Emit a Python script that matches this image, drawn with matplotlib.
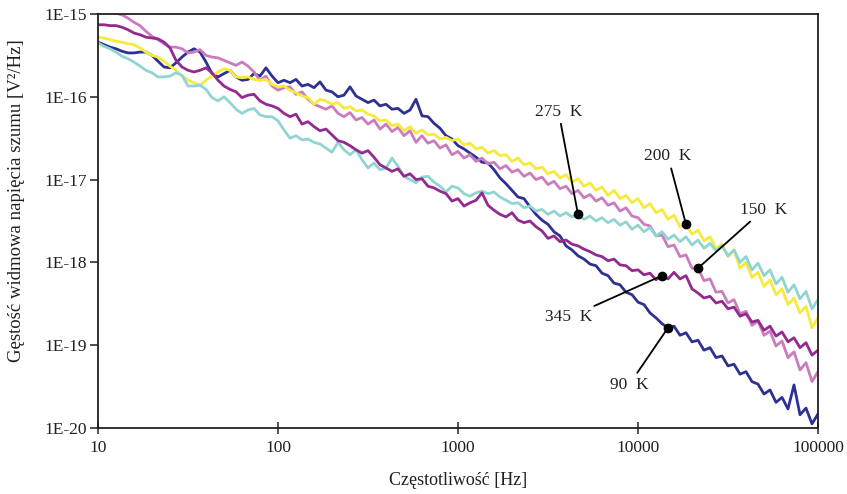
import matplotlib

matplotlib.use("Agg")
import matplotlib.pyplot as plt
import numpy as np

# Spectra were traced on a 1/30-decade grid from 10 Hz to 100 kHz.
freq = np.logspace(1, 5, 121)

# log10 of the noise voltage spectral density [V^2/Hz].
psd_90k = [
    -15.34, -15.37, -15.40, -15.42, -15.45, -15.47, -15.47, -15.46, -15.46, -15.50,
    -15.57, -15.64, -15.65, -15.59, -15.52, -15.46, -15.42, -15.46, -15.58, -15.72,
    -15.76, -15.72, -15.68, -15.76, -15.80, -15.79, -15.72, -15.75, -15.65, -15.75,
    -15.83, -15.80, -15.83, -15.79, -15.87, -15.85, -15.89, -15.82, -15.92, -15.94,
    -16.00, -15.98, -15.88, -15.99, -16.03, -16.07, -16.04, -16.11, -16.09, -16.15,
    -16.14, -16.20, -16.16, -16.03, -16.23, -16.24, -16.32, -16.38, -16.47, -16.51,
    -16.59, -16.63, -16.68, -16.73, -16.79, -16.80, -16.88, -16.98, -17.05, -17.13,
    -17.21, -17.23, -17.33, -17.42, -17.49, -17.54, -17.63, -17.68, -17.80, -17.85,
    -17.92, -17.96, -18.02, -18.04, -18.13, -18.16, -18.25, -18.27, -18.36, -18.39,
    -18.48, -18.51, -18.61, -18.67, -18.74, -18.79, -18.77, -18.88, -18.85, -18.96,
    -18.94, -19.06, -19.03, -19.15, -19.13, -19.25, -19.23, -19.35, -19.32, -19.44,
    -19.47, -19.59, -19.54, -19.69, -19.63, -19.77, -19.48, -19.84, -19.76, -19.95,
    -19.83,
]
psd_150k = [
    -14.86, -14.89, -14.94, -14.99, -15.01, -15.05, -15.10, -15.14, -15.21, -15.27,
    -15.31, -15.36, -15.40, -15.40, -15.42, -15.47, -15.46, -15.43, -15.50, -15.52,
    -15.53, -15.56, -15.59, -15.62, -15.58, -15.63, -15.70, -15.80, -15.75, -15.87,
    -15.92, -15.89, -15.88, -15.97, -15.94, -16.03, -16.09, -16.12, -16.15, -16.11,
    -16.20, -16.24, -16.19, -16.28, -16.25, -16.33, -16.28, -16.39, -16.33, -16.42,
    -16.37, -16.47, -16.41, -16.55, -16.47, -16.56, -16.53, -16.62, -16.58, -16.70,
    -16.66, -16.74, -16.70, -16.78, -16.74, -16.81, -16.79, -16.87, -16.83, -16.91,
    -16.88, -16.96, -16.92, -17.00, -16.97, -17.06, -17.02, -17.11, -17.08, -17.17,
    -17.13, -17.22, -17.18, -17.26, -17.22, -17.31, -17.28, -17.38, -17.34, -17.44,
    -17.46, -17.54, -17.56, -17.68, -17.67, -17.81, -17.79, -17.93, -17.91, -18.07,
    -18.07, -18.22, -18.20, -18.36, -18.35, -18.49, -18.45, -18.62, -18.59, -18.76,
    -18.71, -18.88, -18.83, -19.01, -18.95, -19.15, -19.08, -19.30, -19.21, -19.44,
    -19.32,
]
psd_200k = [
    -15.28, -15.29, -15.31, -15.33, -15.34, -15.36, -15.37, -15.41, -15.46, -15.50,
    -15.52, -15.57, -15.63, -15.68, -15.75, -15.80, -15.83, -15.86, -15.80, -15.75,
    -15.70, -15.66, -15.68, -15.76, -15.77, -15.76, -15.79, -15.80, -15.79, -15.85,
    -15.88, -15.87, -15.92, -15.95, -15.99, -16.01, -16.09, -16.03, -16.05, -16.09,
    -16.07, -16.14, -16.12, -16.17, -16.16, -16.21, -16.23, -16.29, -16.28, -16.35,
    -16.33, -16.41, -16.36, -16.44, -16.40, -16.46, -16.45, -16.51, -16.49, -16.53,
    -16.51, -16.58, -16.56, -16.63, -16.61, -16.68, -16.65, -16.71, -16.70, -16.78,
    -16.74, -16.82, -16.80, -16.87, -16.85, -16.93, -16.90, -16.98, -16.94, -17.03,
    -16.99, -17.08, -17.04, -17.13, -17.09, -17.19, -17.13, -17.23, -17.19, -17.28,
    -17.23, -17.34, -17.29, -17.40, -17.36, -17.48, -17.43, -17.57, -17.54, -17.66,
    -17.61, -17.74, -17.69, -17.83, -17.78, -17.93, -17.85, -18.07, -18.00, -18.18,
    -18.12, -18.29, -18.21, -18.39, -18.32, -18.51, -18.43, -18.61, -18.53, -18.79,
    -18.67,
]
psd_275k = [
    -15.35, -15.39, -15.42, -15.46, -15.51, -15.54, -15.58, -15.63, -15.68, -15.71,
    -15.76, -15.76, -15.75, -15.71, -15.74, -15.87, -15.87, -15.86, -15.91, -16.01,
    -16.05, -16.00, -16.07, -16.15, -16.20, -16.16, -16.14, -16.22, -16.24, -16.24,
    -16.29, -16.40, -16.50, -16.47, -16.52, -16.51, -16.55, -16.57, -16.62, -16.67,
    -16.55, -16.64, -16.70, -16.64, -16.76, -16.86, -16.80, -16.88, -16.86, -16.74,
    -16.84, -16.96, -17.00, -17.04, -16.97, -16.96, -17.03, -17.08, -17.15, -17.08,
    -17.10, -17.17, -17.20, -17.16, -17.14, -17.17, -17.15, -17.21, -17.25, -17.29,
    -17.28, -17.34, -17.32, -17.38, -17.36, -17.42, -17.38, -17.44, -17.40, -17.45,
    -17.42, -17.48, -17.44, -17.50, -17.46, -17.52, -17.48, -17.55, -17.51, -17.60,
    -17.55, -17.63, -17.58, -17.68, -17.63, -17.72, -17.67, -17.75, -17.69, -17.79,
    -17.73, -17.83, -17.77, -17.86, -17.80, -17.92, -17.85, -18.00, -17.93, -18.09,
    -18.01, -18.16, -18.09, -18.26, -18.18, -18.36, -18.27, -18.44, -18.35, -18.56,
    -18.45,
]
psd_345k = [
    -15.13, -15.13, -15.14, -15.14, -15.16, -15.19, -15.23, -15.25, -15.28, -15.29,
    -15.30, -15.34, -15.41, -15.56, -15.64, -15.68, -15.70, -15.68, -15.65, -15.71,
    -15.80, -15.87, -15.91, -15.94, -16.01, -15.98, -15.97, -16.05, -16.09, -16.11,
    -16.14, -16.20, -16.24, -16.21, -16.33, -16.30, -16.36, -16.41, -16.39, -16.46,
    -16.53, -16.55, -16.59, -16.64, -16.68, -16.65, -16.73, -16.82, -16.86, -16.90,
    -16.87, -16.96, -16.93, -17.00, -16.99, -17.08, -17.10, -17.14, -17.17, -17.26,
    -17.23, -17.32, -17.28, -17.25, -17.16, -17.31, -17.37, -17.42, -17.45, -17.40,
    -17.49, -17.52, -17.50, -17.57, -17.62, -17.71, -17.68, -17.75, -17.73, -17.78,
    -17.80, -17.84, -17.87, -17.91, -17.93, -17.98, -17.96, -18.03, -18.04, -18.10,
    -18.09, -18.15, -18.13, -18.21, -18.16, -18.20, -18.12, -18.20, -18.16, -18.32,
    -18.37, -18.43, -18.41, -18.49, -18.47, -18.56, -18.54, -18.65, -18.62, -18.72,
    -18.70, -18.82, -18.77, -18.89, -18.84, -18.96, -18.91, -19.03, -18.97, -19.12,
    -19.06,
]

labels = ["90  K", "150  K", "200  K", "275  K", "345  K"]
y_ticks = [1e-20, 1e-19, 1e-18, 1e-17, 1e-16, 1e-15]
y_tick_labels = ["1E-20", "1E-19", "1E-18", "1E-17", "1E-16", "1E-15"]
x_ticks = [10, 100, 1000, 10000, 100000]
x_tick_labels = ["10", "100", "1000", "10000", "100000"]

series = {
    "90  K": psd_90k,
    "150  K": psd_150k,
    "200  K": psd_200k,
    "275  K": psd_275k,
    "345  K": psd_345k,
}
colors = {
    "90  K": "#2e3192",
    "150  K": "#cb7cbf",
    "200  K": "#f6ea3c",
    "275  K": "#90d5d2",
    "345  K": "#922a8f",
}
draw_order = ["90  K", "150  K", "200  K", "275  K", "345  K"]

# where each label's pointer touches its curve (grid index) and the text offset in points
pointers = {
    "90  K": (95, (-28, -41)),
    "150  K": (100, (47, 42)),
    "200  K": (98, (-13, 49)),
    "275  K": (80, (-14, 74)),
    "345  K": (94, (-67, -30)),
}

plt.rcParams["font.family"] = ["Liberation Serif", "DejaVu Serif"]
ink = "#231f20"

fig = plt.figure(figsize=(8.47, 4.94), dpi=100)
ax = fig.add_axes([98 / 847, 1 - 428 / 494, 720 / 847, 414 / 494])

for name in draw_order:
    ax.plot(freq, 10 ** np.array(series[name]), color=colors[name],
            lw=2.0, solid_joinstyle="round")

for name in labels:
    idx, offset = pointers[name]
    x, y = freq[idx], 10 ** series[name][idx]
    ax.plot([x], [y], "o", color="black", ms=6, zorder=6)
    ax.annotate(name, xy=(x, y), xytext=offset, textcoords="offset points",
                ha="center", va="center", fontsize=12.5, color=ink, zorder=6,
                arrowprops=dict(arrowstyle="-", color="black", lw=1.3,
                                shrinkA=1, shrinkB=0))

ax.set_xscale("log")
ax.set_yscale("log")
ax.set_xlim(10, 100000)
ax.set_ylim(1e-20, 1e-15)
ax.set_xticks(x_ticks)
ax.set_xticklabels(x_tick_labels)
ax.set_yticks(y_ticks)
ax.set_yticklabels(y_tick_labels)
ax.minorticks_off()
ax.tick_params(axis="x", direction="inout", length=9, width=1.1, colors=ink,
               labelsize=12.5, pad=4)
ax.tick_params(axis="y", direction="out", length=6, width=1.1, colors=ink,
               labelsize=12.5, pad=2)
for spine in ax.spines.values():
    spine.set_linewidth(1.3)
    spine.set_color(ink)

ax.set_xlabel("Częstotliwość [Hz]", fontsize=13, color=ink, labelpad=12)
ax.set_ylabel("Gęstość widmowa napięcia szumu [V²/Hz]", fontsize=13.5,
              color=ink)
ax.yaxis.set_label_coords(-0.102, 0.55)

fig.savefig("out.png", dpi=100)
